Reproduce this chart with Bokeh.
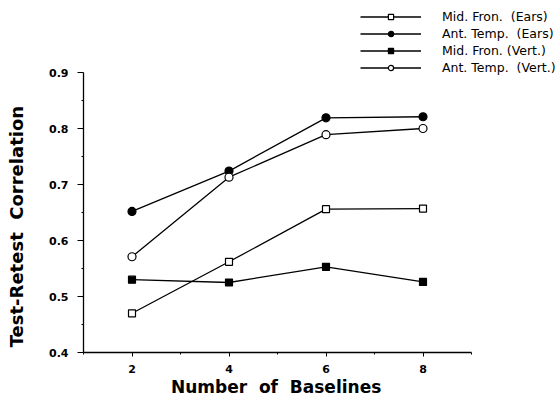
from bokeh.plotting import figure
from bokeh.models import FixedTicker, Legend, LegendItem, Range1d
from bokeh.embed import file_html
from bokeh.resources import INLINE

baselines = [2, 4, 6, 8]
mid_fron_ears = [0.470, 0.562, 0.656, 0.657]
ant_temp_ears = [0.652, 0.724, 0.819, 0.821]
mid_fron_vert = [0.530, 0.525, 0.553, 0.526]
ant_temp_vert = [0.571, 0.713, 0.789, 0.800]

x_ticks = [2, 4, 6, 8]
x_minor = [1, 3, 5, 7, 9]
y_ticks = [0.4, 0.5, 0.6, 0.7, 0.8, 0.9]
y_minor = [0.45, 0.55, 0.65, 0.75, 0.85]

FONT = "DejaVu Sans"
NB = "\u00a0"

# frame spans whole top/right area so the legend (above the axes) is not clipped;
# axes are bounded to the data area 1..9 and 0.4..0.9
p = figure(width=557, height=399, output_backend="svg", toolbar_location=None,
           x_range=Range1d(1, 1 + 474 / 48.5), y_range=Range1d(0.4, 0.4 + 352 / 560),
           min_border_left=83, min_border_right=0, min_border_top=0, min_border_bottom=47)
p.outline_line_color = None
p.xgrid.visible = False
p.ygrid.visible = False

series = [
    ("Mid. Fron." + NB + " (Ears)", mid_fron_ears, "square", "white"),
    ("Ant. Temp." + NB + " (Ears)", ant_temp_ears, "circle", "black"),
    ("Mid. Fron. (Vert.)", mid_fron_vert, "square", "black"),
    ("Ant. Temp." + NB + " (Vert.)", ant_temp_vert, "circle", "white"),
]
items = []
for label, vals, marker, fill in series:
    l = p.line(baselines, vals, line_color="black", line_width=1.3)
    s = p.scatter(baselines, vals, marker=marker, size=8 if marker == "circle" else 7,
                  fill_color=fill, line_color="black", line_width=1.2)
    items.append(LegendItem(label=label, renderers=[l, s]))

legend = Legend(items=items, location=(277, 277), orientation="vertical",
                glyph_width=61, glyph_height=13, label_standoff=21, spacing=2,
                padding=0, margin=0, border_line_color=None, background_fill_alpha=0,
                label_text_font=FONT, label_text_font_size="12.5px", label_text_color="black",
                label_height=13)
p.add_layout(legend, "center")

for ax in (p.xaxis[0], p.yaxis[0]):
    ax.axis_line_color = "black"
    ax.axis_line_width = 1.3
    ax.major_tick_line_color = "black"
    ax.minor_tick_line_color = "black"
    ax.major_tick_in = 0
    ax.minor_tick_out = 2
    ax.minor_tick_in = 0
    ax.major_label_text_font = FONT
    ax.major_label_text_font_size = "11px"
    ax.major_label_text_font_style = "bold"
    ax.major_label_text_color = "black"
    ax.axis_label_text_font = FONT
    ax.axis_label_text_font_style = "bold"
    ax.axis_label_text_color = "black"

p.xaxis[0].bounds = (1, 9)
p.yaxis[0].bounds = (0.4, 0.9)
p.xaxis[0].axis_label_text_font_size = "17px"
p.yaxis[0].axis_label_text_font_size = "18px"
p.xaxis[0].ticker = FixedTicker(ticks=x_ticks, minor_ticks=x_minor)
p.yaxis[0].ticker = FixedTicker(ticks=y_ticks, minor_ticks=y_minor)
# trailing no-break spaces shift the centred labels onto the bounded axes
p.xaxis[0].axis_label = "Number" + NB + " of" + NB + " Baselines" + NB * 15
p.yaxis[0].axis_label = "Test-Retest" + NB + " Correlation" + NB * 16
p.xaxis[0].major_label_overrides = {t: str(t) for t in x_ticks}
p.yaxis[0].major_label_overrides = {t: f"{t:.1f}" for t in y_ticks}
p.xaxis[0].major_tick_out = 4
p.yaxis[0].major_tick_out = 6
p.xaxis[0].major_label_standoff = 8
p.yaxis[0].major_label_standoff = 9
p.xaxis[0].axis_label_standoff = 1
p.yaxis[0].axis_label_standoff = 19

open("out.html", "w").write(file_html(p, INLINE))
